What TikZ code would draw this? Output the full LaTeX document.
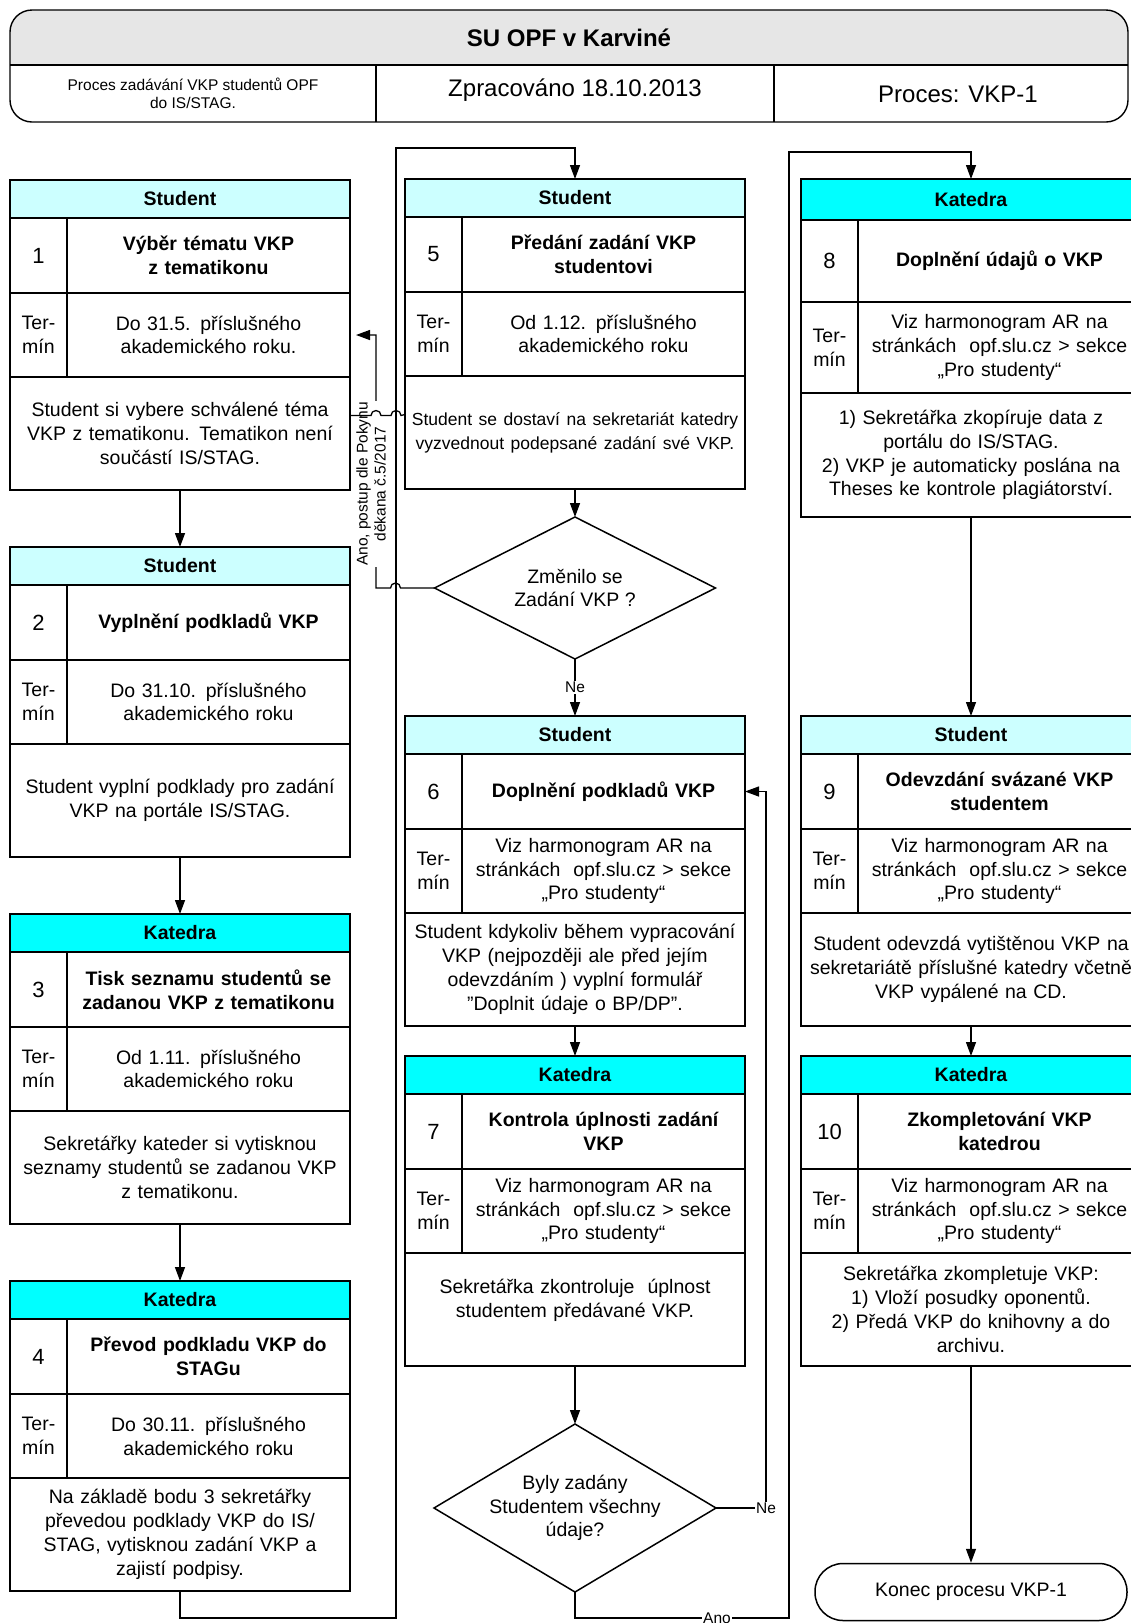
\documentclass[tikz,border=0pt]{standalone}
\usepackage{fontspec}
\setmainfont{Liberation Sans}
\usetikzlibrary{arrows.meta,shapes.geometric}
\definecolor{stud}{HTML}{CCFFFF}
\definecolor{kat}{HTML}{00FFFF}
\definecolor{hgray}{HTML}{E6E6E6}
\newcommand\myBody{\fontsize{19.5}{23.8}\selectfont}
\newcommand\myDesc{\fontsize{17.5}{22.8}\selectfont}
\newcommand\myNum{\fontsize{22}{26}\selectfont}
\newcommand\mySmall{\fontsize{15.5}{18}\selectfont}
\newcommand\myBig{\fontsize{24}{28}\selectfont}
\newcommand\setrows[4]{\def\rH{#1}\def\rA{#2}\def\rB{#3}\def\rC{#4}}
\newcommand\pbox[9]{%
 \node[cell, fill=#4, text width=340pt, minimum height=\rH, anchor=north west, font=\myBody\bfseries] (#1h) at (#2,#3) {#5};
 \node[cell, text width=57pt, minimum height=\rA, anchor=north west, font=\myNum] (#1n) at (#1h.south west) {#6};
 \node[cell, text width=283pt, minimum height=\rA, anchor=north west, font=\myBody\bfseries] (#1t) at (#1n.north east) {#7};
 \node[cell, text width=57pt, minimum height=\rB, anchor=north west] (#1m) at (#1n.south west) {Ter-\\mín};
 \node[cell, text width=283pt, minimum height=\rB, anchor=north west] (#1tt) at (#1m.north east) {#8};
 \node[cell, text width=340pt, minimum height=\rC, anchor=north west] (#1d) at (#1m.south west) {#9};
}
\newcommand\viz{Viz harmonogram AR na\\stránkách\ \ opf.slu.cz > sekce\\„Pro studenty“}
\tikzset{
 cell/.style={draw=black, line width=1.6pt, inner sep=0pt, outer sep=0pt, align=center, font=\myBody},
 conn/.style={draw=black, line width=1.3pt},
 arr/.style={-{Triangle[length=14pt,width=10pt]}},
 lbl/.style={fill=white, inner sep=1pt, font=\mySmall},
 dia/.style={diamond, draw=black, line width=1.5pt, inner sep=0pt, outer sep=0pt},
 txt/.style={align=center, font=\myBody, inner sep=0pt},
}
\begin{document}
\begin{tikzpicture}[x=1pt,y=-1pt]
\useasboundingbox (0,0) rectangle (1131,1623);
% ---- header ----
\fill[hgray] (10,65) -- (10,32) arc[start angle=180,end angle=90,radius=22pt] -- (1106,10) arc[start angle=90,end angle=0,radius=22pt] -- (1128,65) -- cycle;
\node[draw=black, line width=1.4pt, rounded corners=22pt, minimum width=1118pt, minimum height=112pt, anchor=north west, inner sep=0pt, outer sep=0pt] (hdr) at (10,10) {};
\draw[line width=1.4pt] (10,65) -- (1128,65);
\draw[line width=1.4pt] (376,65) -- (376,122);
\draw[line width=1.4pt] (774,65) -- (774,122);
\node[font=\myBig\bfseries] (ttl) at (569,38) {SU OPF v Karviné};
\node[font=\mySmall, align=center] (s1) at (193,93) {Proces zadávání VKP studentů OPF\\do IS/STAG.};
\node[font=\myBig] (s2) at (575,90) {Zpracováno 18.10.2013};
\node[font=\myBig] (s3) at (958,94) {Proces: VKP-1};
% ---- boxes ----
\setrows{38pt}{75pt}{84pt}{113pt}
\pbox{b1}{10}{180}{stud}{Student}{1}{Výběr tématu VKP\\z tematikonu}{Do 31.5. příslušného\\akademického roku.}{Student si vybere schválené téma\\VKP z tematikonu. Tematikon není\\součástí IS/STAG.}
\pbox{b2}{10}{547}{stud}{Student}{2}{Vyplnění podkladů VKP}{Do 31.10. příslušného\\akademického roku}{Student vyplní podklady pro zadání\\VKP na portále IS/STAG.}
\pbox{b3}{10}{914}{kat}{Katedra}{3}{Tisk seznamu studentů se\\zadanou VKP z tematikonu}{Od 1.11. příslušného\\akademického roku}{Sekretářky kateder si vytisknou\\seznamy studentů se zadanou VKP\\z tematikonu.}
\pbox{b4}{10}{1281}{kat}{Katedra}{4}{Převod podkladu VKP do\\STAGu}{Do 30.11. příslušného\\akademického roku}{Na základě bodu 3 sekretářky\\převedou podklady VKP do IS/\\STAG, vytisknou zadání VKP a\\zajistí podpisy.}
\pbox{b5}{405}{179}{stud}{Student}{5}{Předání zadání VKP\\studentovi}{Od 1.12. příslušného\\akademického roku}{\myDesc Student se dostaví na sekretariát katedry\\vyzvednout podepsané zadání své VKP.}
\pbox{b6}{405}{716}{stud}{Student}{6}{Doplnění podkladů VKP}{\viz}{Student kdykoliv během vypracování\\VKP (nejpozději ale před jejím\\odevzdáním ) vyplní formulář\\"Doplnit údaje o BP/DP".}
\pbox{b7}{405}{1056}{kat}{Katedra}{7}{Kontrola úplnosti zadání\\VKP}{\viz}{Sekretářka zkontroluje\ \ úplnost\\studentem předávané VKP.\\[-2pt]\mbox{}}
\pbox{b9}{801}{716}{stud}{Student}{9}{Odevzdání svázané VKP\\studentem}{\viz}{Student odevzdá vytištěnou VKP na\\sekretariátě příslušné katedry včetně\\VKP vypálené na CD.}
\pbox{b10}{801}{1056}{kat}{Katedra}{10}{Zkompletování VKP\\katedrou}{\viz}{Sekretářka zkompletuje VKP:\\1) Vloží posudky oponentů.\\2) Předá VKP do knihovny a do\\archivu.}
\setrows{41pt}{82pt}{91pt}{124pt}
\pbox{b8}{801}{179}{kat}{Katedra}{8}{Doplnění údajů o VKP}{\viz}{1) Sekretářka zkopíruje data z\\portálu do IS/STAG.\\2) VKP je automaticky poslána na\\Theses ke kontrole plagiátorství.}
% ---- decisions and end ----
\node[dia, minimum width=281pt, minimum height=142pt] (d1) at (575,588) {};
\node[txt] (d1t) at (d1.center) {Změnilo se\\Zadání VKP ?};
\node[dia, minimum width=282pt, minimum height=168pt] (d2) at (575,1508) {};
\node[txt] (d2t) at (d2.center) {Byly zadány\\Studentem všechny\\údaje?};
\node[draw=black, line width=1.5pt, rounded corners=28pt, minimum width=312pt, minimum height=57pt, inner sep=0pt, font=\myBody] (end) at (971,1592) {Konec procesu VKP-1};
% ---- connectors ----
\draw[conn,arr] (b1d.south) -- (b2h.north);
\draw[conn,arr] (b2d.south) -- (b3h.north);
\draw[conn,arr] (b3d.south) -- (b4h.north);
\coordinate (k1) at (396,1618);
\coordinate (k2) at (396,148);
\draw[conn,arr] (b4d.south) |- (k1) -- (k2) -| (b5h.north);
\draw[conn,arr] (b5d.south) -- (d1.north);
\draw[conn,arr] (d1.south) -- node[lbl] (ne1) {Ne} (b6h.north);
\draw[conn,arr] (d1.west) -- ++(-34,0) arc[start angle=0,end angle=180,radius=5pt] -- (376,588) |- ([xshift=6pt]b1tt.east);
\node[lbl, align=center, rotate=90] (ano1) at (371,484) {Ano, postup dle Pokynu\\děkana č.5/2017};
\draw[conn] ([yshift=18pt]b1d.east) -- ++(21,0) arc[start angle=180,end angle=0,radius=5pt] -- ++(10,0) arc[start angle=180,end angle=0,radius=5pt] -- ([yshift=18pt]b5d.west);
\draw[conn,arr] (b6d.south) -- (b7h.north);
\draw[conn,arr] (b7d.south) -- (d2.north);
\coordinate (k3) at (766,1508);
\draw[conn,arr] (d2.east) -- (k3) |- (b6t.east);
\node[lbl] (ne2) at (k3) {Ne};
\coordinate (k4) at (789,1618);
\coordinate (k5) at (789,152);
\draw[conn,arr] (d2.south) |- (k4) -- (k5) -| (b8h.north);
\node[lbl] (ano2) at (717,1618) {Ano};
\draw[conn,arr] (b8d.south) -- (b9h.north);
\draw[conn,arr] (b9d.south) -- (b10h.north);
\draw[conn,arr] (b10d.south) -- (end.north);
\end{tikzpicture}
\end{document}
